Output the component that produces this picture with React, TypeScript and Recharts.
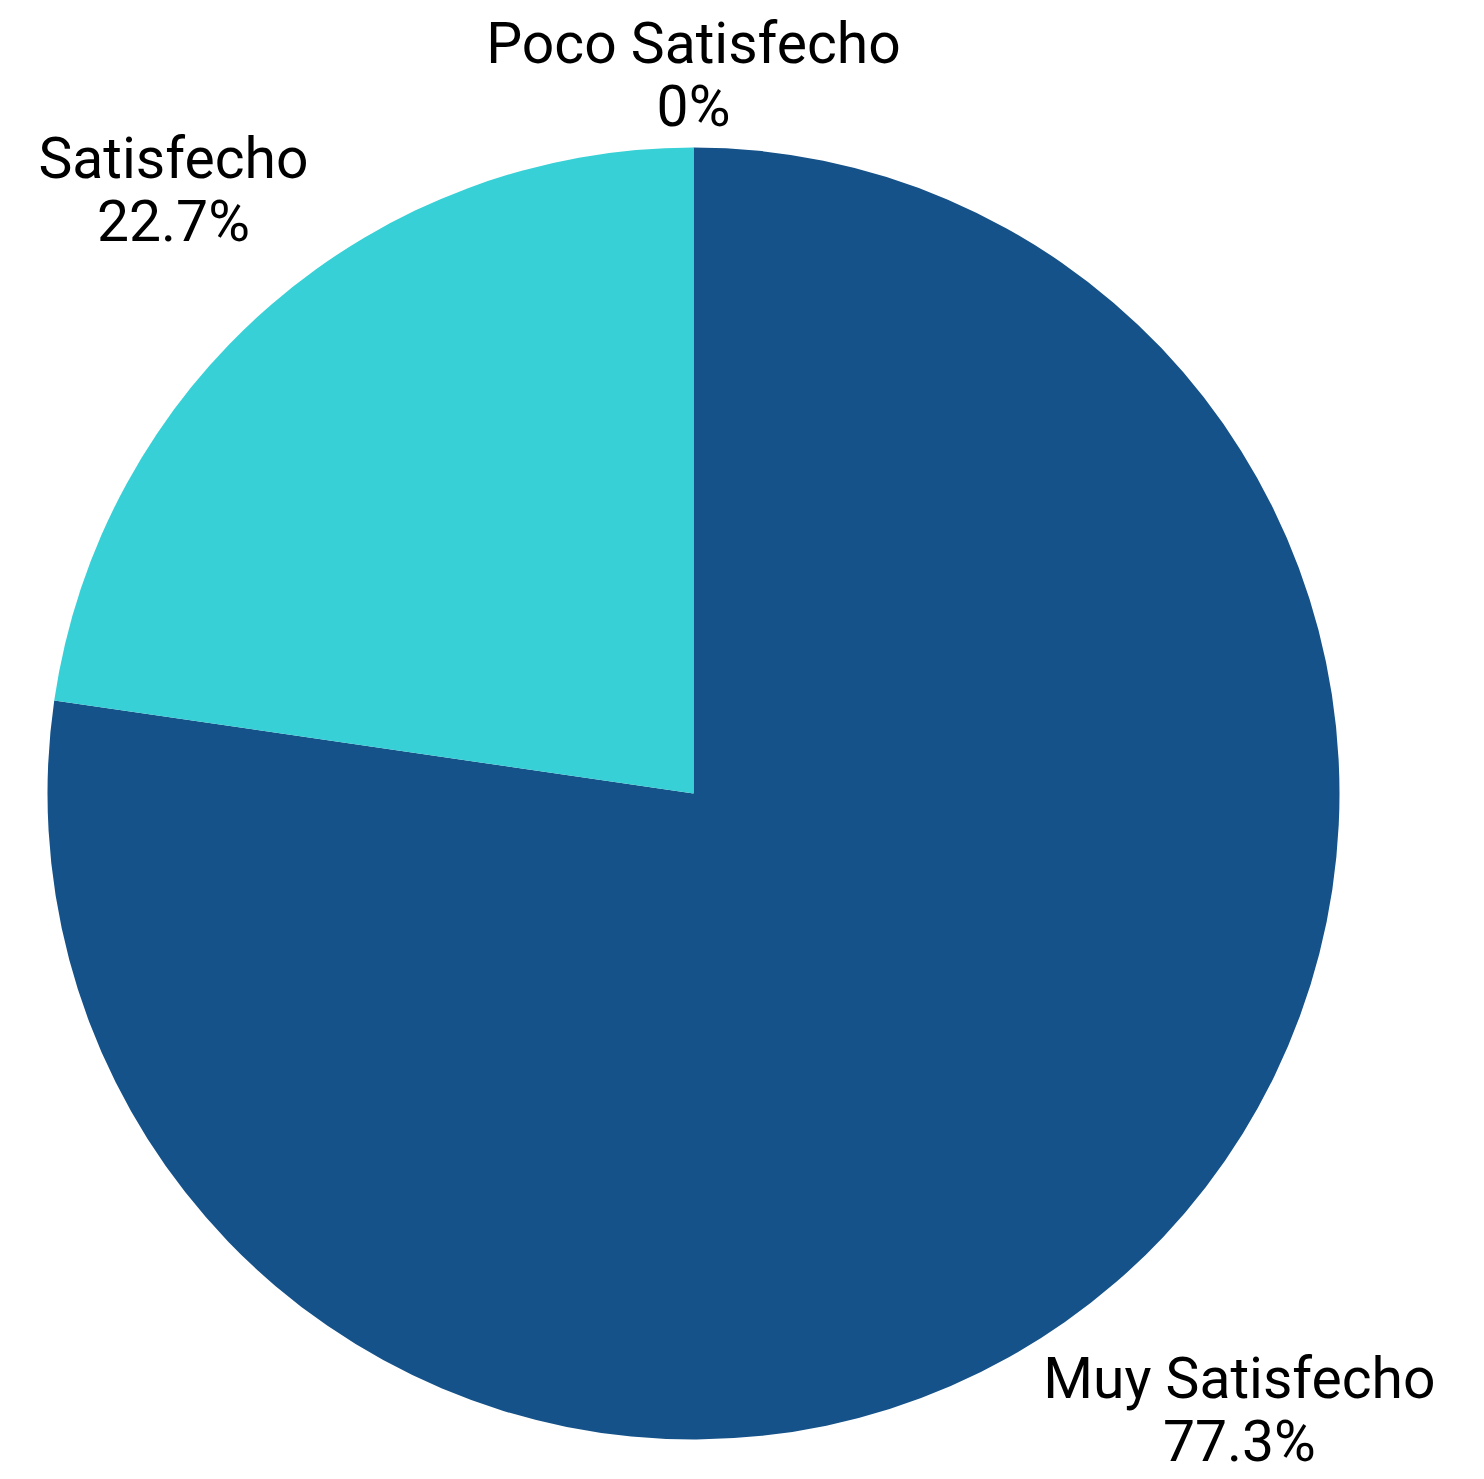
import React from "react";
import { PieChart, Pie, Cell } from "recharts";

const categories = ["Muy Satisfecho", "Satisfecho", "Poco Satisfecho"];
const values = [77.3, 22.7, 0];
const colors = ["#155289", "#36D0D6", "#E8663D"];

const data = categories.map((name, i) => ({ name, value: values[i] }));

const W = 1484;
const H = 1479;

// label block placement relative to the pie centre, in units of the outer radius
const labelPlacement = [
  { dx: 0.845, dy: 0.936 },
  { dx: -0.805, dy: -0.953 },
  { dx: 0, dy: -1.131 },
];

const renderLabel = (props: any) => {
  const { cx, cy, outerRadius, index } = props;
  const p = labelPlacement[index];
  const x = cx + p.dx * outerRadius;
  const y = cy + p.dy * outerRadius;
  const v = values[index];
  return (
    <text
      x={x}
      y={y}
      textAnchor="middle"
      fill="#000"
      fontFamily="Roboto, sans-serif"
      fontSize={57}
    >
      <tspan x={x} y={y}>{categories[index]}</tspan>
      <tspan x={x} y={y + 63}>{`${v}%`}</tspan>
    </text>
  );
};

export default function App() {
  return (
    <div style={{ position: "absolute", left: 0, top: 0, width: W, height: H, background: "#fff" }}>
      <PieChart width={W} height={H} margin={{ top: 0, right: 0, bottom: 0, left: 0 }}>
        <Pie
          data={data}
          dataKey="value"
          nameKey="name"
          cx={693.5}
          cy={793.5}
          outerRadius={646}
          startAngle={90}
          endAngle={-270}
          stroke="none"
          labelLine={false}
          label={renderLabel}
          isAnimationActive={false}
        >
          {data.map((d, i) => (
            <Cell key={d.name} fill={colors[i]} />
          ))}
        </Pie>
      </PieChart>
    </div>
  );
}
